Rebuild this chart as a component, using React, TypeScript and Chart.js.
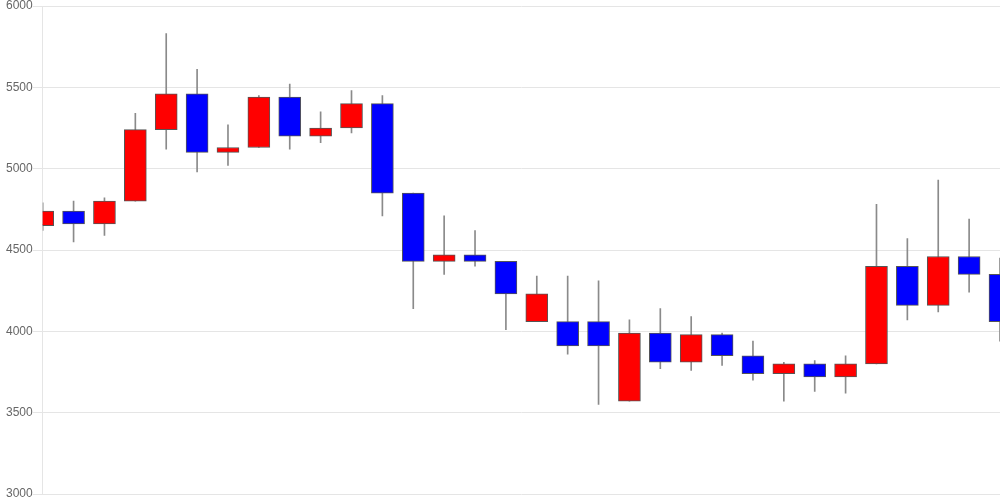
import React, { useEffect, useRef } from "react";
import { Chart, registerables } from "chart.js";

Chart.register(...registerables);

const labels: string[] = [
  "1", "2", "3", "4", "5", "6", "7", "8", "9", "10", "11", "12", "13", "14", "15", "16",
  "17", "18", "19", "20", "21", "22", "23", "24", "25", "26", "27", "28", "29", "30", "31", "32",
];
const opens: number[] = [
  4650, 4740, 4660, 4800, 5240, 5460, 5100, 5130, 5440, 5200, 5250, 5400, 4850, 4430, 4470, 4430,
  4060, 4060, 4060, 3570, 3990, 3810, 3980, 3850, 3740, 3800, 3720, 3800, 4400, 4160, 4460, 4350,
];
const highs: number[] = [
  4790, 4800, 4820, 5340, 5830, 5610, 5270, 5450, 5520, 5350, 5480, 5450, 4850, 4710, 4620, 4430,
  4340, 4340, 4310, 4070, 4140, 4090, 3990, 3940, 3810, 3820, 3850, 4780, 4570, 4930, 4690, 4450,
];
const lows: number[] = [
  4620, 4550, 4590, 4800, 5120, 4980, 5020, 5130, 5120, 5160, 5220, 4710, 4140, 4350, 4400, 4010,
  4060, 3860, 3550, 3570, 3770, 3760, 3790, 3700, 3570, 3630, 3620, 3800, 4070, 4120, 4240, 3940,
];
const closes: number[] = [
  4740, 4660, 4800, 5240, 5460, 5100, 5130, 5440, 5200, 5250, 5400, 4850, 4430, 4470, 4430, 4230,
  4230, 3910, 3910, 3990, 3810, 3980, 3850, 3740, 3800, 3720, 3800, 4400, 4160, 4460, 4350, 4060,
];
const yTicks: number[] = [3000, 3500, 4000, 4500, 5000, 5500, 6000];

const UP_COLOR = "#ff0000";
const DOWN_COLOR = "#0000ff";

export default function App() {
  const ref = useRef<HTMLCanvasElement | null>(null);

  useEffect(() => {
    document.body.style.margin = "0";
    if (!ref.current) return;
    const bodyData = opens.map((o, i) => [o, closes[i]] as [number, number]);
    const wickData = lows.map((l, i) => [l, highs[i]] as [number, number]);
    const bodyColors = opens.map((o, i) => (closes[i] >= o ? UP_COLOR : DOWN_COLOR));

    const chart = new Chart(ref.current, {
      type: "bar",
      data: {
        labels,
        datasets: [
          {
            label: "body",
            data: bodyData as any,
            backgroundColor: bodyColors,
            borderColor: "#555555",
            borderWidth: 1,
            borderSkipped: false,
            barThickness: 22,
            grouped: false,
            order: 1,
          },
          {
            label: "wick",
            data: wickData as any,
            backgroundColor: "#8a8a8a",
            borderWidth: 0,
            barThickness: 1,
            grouped: false,
            order: 2,
          },
        ],
      },
      options: {
        responsive: false,
        animation: false,
        layout: { padding: { left: 6 } },
        plugins: {
          legend: { display: false },
          tooltip: { enabled: false },
        },
        scales: {
          x: {
            display: false,
            offset: false,
            grid: { display: false },
          },
          y: {
            min: yTicks[0],
            max: yTicks[yTicks.length - 1],
            afterBuildTicks: (axis: any) => {
              axis.ticks = yTicks.map((v) => ({ value: v }));
            },
            ticks: {
              color: "#666666",
              padding: 0,
              font: { size: 12, lineHeight: 1 },
              callback: (v: any) => String(v),
            },
            grid: { color: "#e5e5e5", tickLength: 10 },
            border: { color: "#e5e5e5" },
          },
        },
      },
    });
    return () => chart.destroy();
  }, []);

  return (
    <div style={{ width: 1000, height: 500 }}>
      <canvas ref={ref} width={1000} height={500} />
    </div>
  );
}
